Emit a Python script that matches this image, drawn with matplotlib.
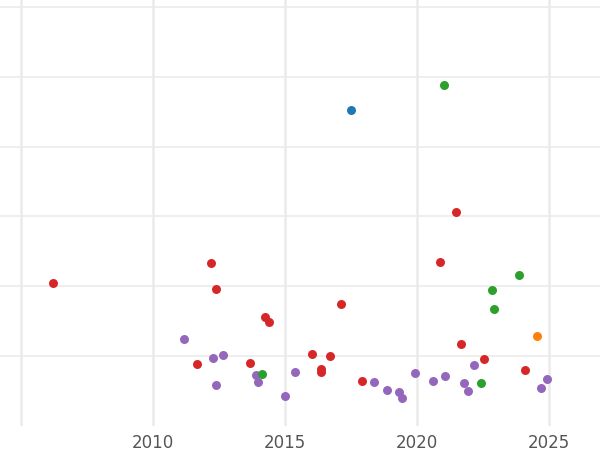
import matplotlib
matplotlib.use("Agg")
import matplotlib.pyplot as plt

blue_x = [2017.5]; blue_y = [4.53]
green_x = [2021.02, 2014.13, 2023.86, 2022.84, 2022.92, 2022.42]
green_y = [4.89, 0.745, 2.16, 1.95, 1.68, 0.62]
orange_x = [2024.55]; orange_y = [1.29]
red_x = [2006.21, 2012.2, 2012.39, 2011.67, 2013.67, 2014.24, 2014.39, 2016.02, 2016.36, 2016.36,
         2016.7, 2017.12, 2017.92, 2021.48, 2020.87, 2021.67, 2022.54, 2024.09]
red_y = [2.05, 2.34, 1.96, 0.89, 0.90, 1.56, 1.49, 1.03, 0.82, 0.77,
         1.0, 1.75, 0.64, 3.07, 2.35, 1.17, 0.96, 0.80]
purple_x = [2011.17, 2012.27, 2012.65, 2012.39, 2013.9, 2013.98, 2015.0, 2015.38, 2018.37, 2018.86,
            2019.32, 2019.43, 2019.92, 2020.6, 2021.06, 2021.78, 2021.93, 2022.16, 2024.7, 2024.92]
purple_y = [1.25, 0.97, 1.02, 0.59, 0.73, 0.63, 0.43, 0.77, 0.63, 0.52,
            0.49, 0.40, 0.76, 0.64, 0.72, 0.62, 0.50, 0.87, 0.54, 0.67]
xticks = [2005, 2010, 2015, 2020, 2025]
xlabels = ["", "2010", "2015", "2020", "2025"]

fig = plt.figure(figsize=(6, 4.5), dpi=100)
ax = fig.add_axes([0, 24/450, 1, 1 - 24/450])
for xs, ys, c in [(purple_x, purple_y, "#9467bd"), (red_x, red_y, "#d62728"),
                  (green_x, green_y, "#2ca02c"), (orange_x, orange_y, "#ff7f0e"),
                  (blue_x, blue_y, "#1f77b4")]:
    ax.scatter(xs, ys, s=42, color=c, zorder=3, linewidths=0)
ax.set_xlim(2004.2, 2026.93)
ax.set_ylim(0, 6.1)
ax.set_xticks(xticks)
ax.set_xticklabels(xlabels)
ax.set_yticks([1, 2, 3, 4, 5, 6])
ax.set_yticklabels([])
ax.grid(True, color="#ebebeb", linewidth=1.2)
ax.xaxis.grid(True, linewidth=1.8)
for s in ax.spines.values():
    s.set_visible(False)
ax.tick_params(length=0, labelsize=12, labelcolor="#555555", pad=6)
fig.savefig("out.png")
